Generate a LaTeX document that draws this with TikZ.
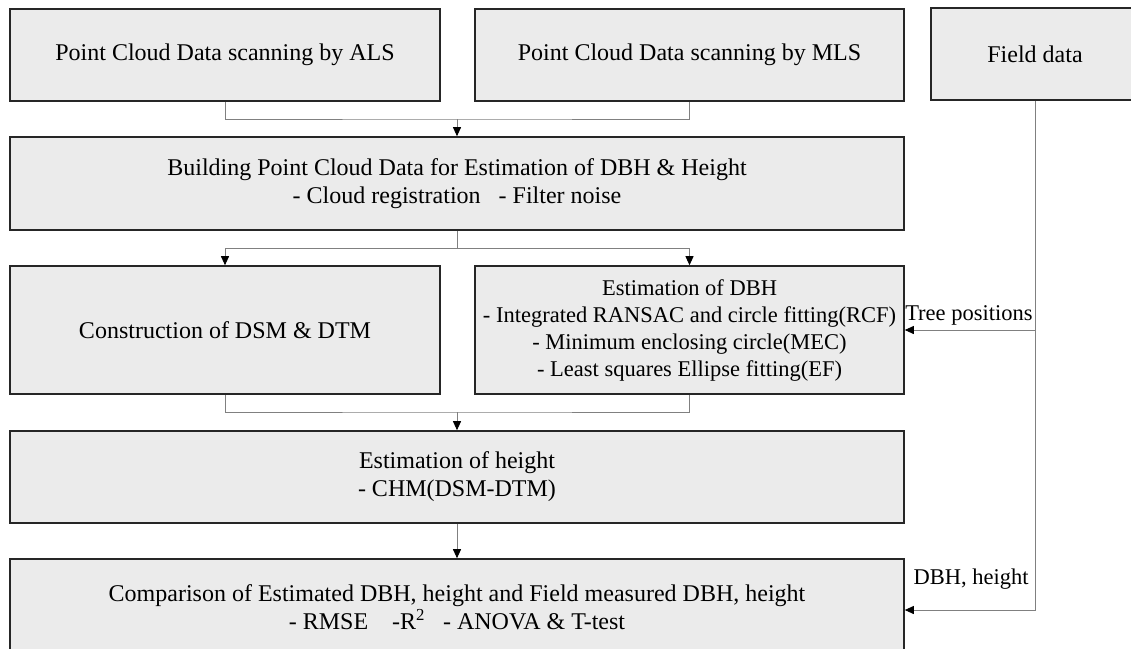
\documentclass[tikz,border=0pt]{standalone}
\usepackage{fontspec}
\setmainfont{Liberation Serif}
\usepackage{xcolor}
\usepackage{tikz}
\usetikzlibrary{arrows.meta}

\definecolor{boxfill}{HTML}{EBEBEB}
\definecolor{wire}{HTML}{808080}

\begin{document}
\begin{tikzpicture}[
    x=1pt, y=-1pt,
    font=\fontsize{24}{28}\selectfont,
    box/.style={rectangle, draw=black!85, line width=1.6pt, fill=boxfill, minimum height=92pt, align=center, inner sep=2pt},
    small/.style={font=\fontsize{22.5}{27}\selectfont},
    line/.style={draw=wire, line width=0.9pt},
    arrow/.style={line, -{Triangle[width=8pt, length=9pt, color=black]}}
]
    \useasboundingbox (0,0) rectangle (1131,648);
    \clip (0,0) rectangle (1131,648);

    % Inputs
    \node[box, minimum width=430pt] (als) at (225,55) {Point Cloud Data scanning by ALS};
    \node[box, minimum width=429pt] (mls) at (689.5,55) {Point Cloud Data scanning by MLS};
    \node[box, minimum width=208pt] (field) at (1035,54) {Field data};

    % Processing
    \node[box, minimum width=894pt, minimum height=93pt] (build) at (457,183.5) {Building Point Cloud Data for Estimation of DBH \& Height\\- Cloud registration \ \ - Filter noise};
    \node[box, minimum width=430pt, minimum height=128pt] (dsm) at (225,330) {Construction of DSM \& DTM};
    \node[box, small, minimum width=429pt, minimum height=128pt] (dbh) at (689.5,330) {Estimation of DBH\\- Integrated RANSAC and circle fitting(RCF)\\- Minimum enclosing circle(MEC)\\- Least squares Ellipse fitting(EF)};
    \node[box, minimum width=894pt] (height) at (457,477) {Estimation of height\\- CHM(DSM-DTM)};

    % Result
    \node[box, minimum width=894pt, minimum height=96pt] (comp) at (457,607) {Comparison of Estimated DBH, height and Field measured DBH, height\\- RMSE \ \ \ -R\textsuperscript{2} \ \ - ANOVA \& T-test};

    % Junctions
    \coordinate (topj) at (457,119);
    \coordinate (midj) at (457,412);

    % Arrows
    \draw[line] (als.south) |- (topj) -| (mls.south);
    \draw[arrow] (topj) -- (build.north);
    \draw[arrow] (build.south) -- ++(0,18) -| (dsm.north);
    \draw[arrow] (build.south) -- ++(0,18) -| (dbh.north);
    \draw[line] (dsm.south) |- (midj) -| (dbh.south);
    \draw[arrow] (midj) -- (height.north);
    \draw[arrow] (height) -- (comp);
    \draw[arrow] (field.south) |- node[small, pos=0.5, anchor=south east, inner sep=2pt, yshift=2pt] {Tree positions} (dbh.east);
    \draw[arrow] (field.south) |- node[small, pos=0.5, anchor=south east, inner sep=2pt, xshift=-4pt, yshift=18pt] {DBH, height} ([yshift=-3pt]comp.east);
\end{tikzpicture}
\end{document}
